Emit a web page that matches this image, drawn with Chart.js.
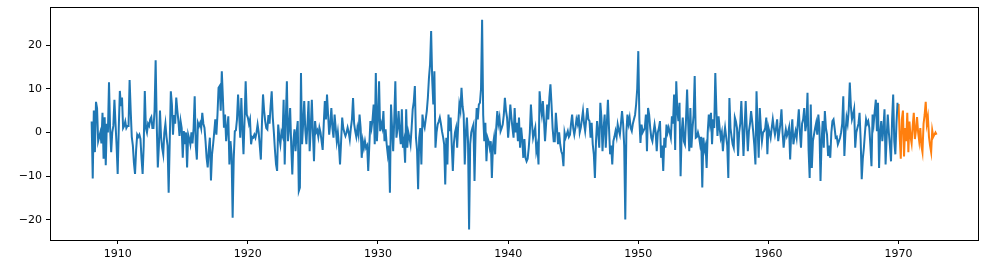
<!DOCTYPE html>
<html>
<head>
<meta charset="utf-8">
<script src="https://cdn.jsdelivr.net/npm/chart.js@4/dist/chart.umd.min.js"></script>
<style>
html,body{margin:0;padding:0;background:#fff;}
#wrap{width:988px;height:274px;position:relative;}
</style>
</head>
<body>
<div id="wrap"><canvas id="c"></canvas></div>
<script>
// Monthly series, training part starts Jan 1908, test part starts Jan 1970
const trainStartYear = 1908;
const testStartYear = 1970;
const trainValues = [
2.5,-10.5,5,-4.5,7,5.5,-2,-1,0,-2.5,4.5,-6,
3.5,-7.5,2,0,11.5,1,-4.5,0,1.5,7.5,2,-3,
-9.5,1,9.5,6,8,1,1.5,2.5,1,1.5,1.5,12,
5,-1,-3,-7,-9.5,-4,-0.5,-1,-0.5,-1.5,-6,-9.5,
-3,9.5,1,0,2,1.5,3,3.5,1,1,5,16.5,
2,-8,-3,5,-1,-3.5,-5,0,2,-1,-3,-13.8,
-2,9.4,6.4,-0.5,4,2,8,5,2.6,-0.8,2.6,1,
-5.8,0.3,-2.7,0,-8,-0.5,-1.5,-2.7,0,-2.5,1,8.3,
-3,-6.2,2.2,1.5,2.2,1,4.5,2,1.1,-2,-5.8,-8,
-4,-1.2,-11,-5,-2.7,0,3,-0.5,4,10.2,10.6,5,
14,8,1.1,4.1,-2,1,3.7,-7.3,-2,-5,-19.5,-6,
0.3,0.5,3,8.7,4,-1.2,7.9,1,-5,3,11.7,4.1,
3.4,2,3,-2.7,-1,-1.2,-0.5,-1.2,0,1.8,0,-3,
-6.2,2,8.7,5,2.6,1,0.7,4,2,6,9.4,3.4,
0,-4,-7.3,-8.8,1.8,-1,-2.7,0,-0.8,7.5,-7.3,3,
11.7,-2,1,5.6,-3,-9.6,-2,0.7,-4.3,0,2.6,-13.4,
-12.6,13.6,-2.7,2,7.2,0.5,-2.7,2,7.2,-4.3,1,7.5,
0,-6.6,2.6,0,0.5,-1,1.1,0,-2,-4,2,7.2,
3,8.7,4,-0.5,2,5.6,1,-1.2,4.1,1,-2,0,
-3,-7.3,-2,3.4,1,0,-0.8,0,1.1,0,-1.6,1,
3,7.9,2,0.3,-1,1,-0.5,4.1,1,-5.8,-2,-3.5,
-2,-3.5,-3,-8.8,-3,2.6,1,3,6.4,-2.7,13.6,-2,
3,11.7,0.3,2,1,4.9,-2,0.7,-2.7,-5,-3,-13.8,
6.4,1,-4.3,3,11.7,-1.2,1,4.9,0,-2.7,5.3,-3.5,
-2,-6.9,5.3,-3.5,0,-1.2,-2.7,1,5.3,7,10.6,-1.2,
-4,-13,-1.2,1,-7.3,4.1,2,1.1,3,4.9,8,12.5,
15.5,23.2,12,6.4,14,-3.5,0,1.8,2.5,3.4,2,0.3,
-1,-2.7,-11.9,-1.2,-7.3,4.1,0.3,3.4,-3,-8.8,-2.4,0,
1.1,-3.5,2,6.4,5,10.2,6,4.1,-7.3,0,3.4,-2,
-22.2,-2.7,0,1,1.8,-11.1,0,5.6,3,6.4,6.8,10,
25.8,4,-2,2.2,-6.6,-1.2,-2,-3.5,-2,-10.4,-3,-1.2,
-5,1,4.9,2,3.4,0.3,1,1.8,4,7.9,5,3.4,
-1.2,2,6.4,3.4,1,-1.2,5.6,0,2.2,-2,3.4,-3.5,
1.1,-1.6,-5.8,-1.5,-5.8,-6.6,-6,-3.5,0,6.4,2,-1.2,
0,1.1,-4.3,-3,-7.3,9.4,6,4.1,7.2,3,-2,2,
6.4,3,8,11,6.4,1,-2,-2,4.5,1,-2.7,0,
-2.7,-4.3,-5,-7.7,0,-1.2,-0.5,0.3,-1,-0.5,2,4.1,
1,-0.5,1,3,2,4.1,0,1.1,3,4.9,2,0.3,
3,5.6,3,2.6,-1.2,2.2,-2.7,-5,-10.4,-2,2.6,0,
-3.5,6.8,3.4,-4.3,1,4.1,-3.5,2,7.5,1,-5,-3,
-7.3,-2,-1,0.3,-1,1.8,0.5,-0.5,2,4.9,2,-3,
-19.9,0,4.1,2,3.4,1,0.3,2,3,4,6.4,10,
18.6,3,-2.4,1.8,0,0.5,1,4.1,-4.3,5.6,4.1,1,
-1.2,-2,0,1.8,0,-4.3,0,1,2.6,-5.8,-3,-8.8,
-1.2,-3.5,1.8,0,1.1,0,-1.2,3.7,2,8.7,-4,11.7,
5,2.6,6.8,-10,0,3.4,-2,-2.7,3,9.8,2,-4.3,
5.6,-3.5,1,4,12.9,-1.2,-1,0,-1,-2.7,-1,-12.6,
-1.2,-4,-3,-8.1,0,4.1,2,4.5,-2.7,3,1,13.6,
5,-0.8,3.7,1,-1.2,0,-4.3,-1,1.1,-1,-3,-10.4,
7.9,1,-1,-2.7,-3.5,3.4,2.5,1,-5.4,0,2,7.2,
1,-5.4,1,7.2,1,-4.3,0.3,2,4.9,2.6,0,-3,
-7.3,9.4,1,-5.8,5.6,1,-2,0,0.3,1,3.4,-5,
1.1,0,-1.2,1,3,1,-0.5,1,3,-2,0,2,
5.3,0,-3.5,-1,0.7,-0.8,0,1.1,-6.2,0,3,-2.7,
-1,0.3,-1.2,2,5.3,0,-3.5,2,3,5.6,0.3,2,
9.1,-4,-10.4,6.4,-8.1,-2,-0.5,1,2.2,-0.5,4.1,1,
-11.1,-2,2.6,-3.5,4.9,1,-0.5,-5.4,-3,-5.8,0,2.6,
3,1,-1.2,-1,-2.7,-2,-1.2,0,2,8.3,-5.4,0,
3.4,2,5,11.4,6,3,4,5.3,-3.5,0,1,2,
4.5,-1.6,-10.7,-6,-3.5,0,3,2,2.6,1,-3,-7.7,
4.1,2,4.9,7.5,0.3,6.8,-8.1,0,2.6,-2,1,5.3,
-7.3,-1,4.1,0,-3,-6.6,3,8.7,-2,-5,2,6.8
];
const testValues = [
6.5,-1,-6,3,5,-5.5,1,-2,4.5,-4.5,2.5,-1,
-2.5,1.5,4.5,-1.5,0.5,3.5,0,-2,1,-3,-4.5,2,
4,7,2,3.5,-1,-3,-4.5,0.5,-1,-0.5,0,-0.5
];
const xTickValues = [1910,1920,1930,1940,1950,1960,1970];
const yTickValues = [-20,-10,0,10,20];

const toPoints = (start, vals) => vals.map((v,i)=>({x:start + i/12, y:v}));

const framePlugin = {
  id:'frame',
  afterDraw(chart){
    const {ctx, chartArea:a} = chart;
    ctx.save();
    ctx.strokeStyle='#000';
    ctx.lineWidth=1;
    ctx.strokeRect(Math.round(a.left)+0.5, Math.round(a.top)+0.5, Math.round(a.right-a.left), Math.round(a.bottom-a.top));
    ctx.restore();
  }
};

new Chart(document.getElementById('c'), {
  type:'line',
  data:{
    datasets:[
      {data:toPoints(trainStartYear, trainValues), borderColor:'#1f77b4', borderWidth:2, pointRadius:0, fill:false, tension:0},
      {data:toPoints(testStartYear, testValues), borderColor:'#ff7f0e', borderWidth:2, pointRadius:0, fill:false, tension:0}
    ]
  },
  options:{
    responsive:true,
    maintainAspectRatio:false,
    devicePixelRatio:1,
    animation:false,
    parsing:false,
    normalized:true,
    layout:{padding:{top:7,right:10,left:0,bottom:0}},
    plugins:{legend:{display:false}, tooltip:{enabled:false}},
    scales:{
      x:{
        type:'linear', min:1904.8, max:1976.1,
        afterBuildTicks(s){ s.ticks = xTickValues.map(v=>({value:v})); },
        afterFit(s){ s.height = 34; s.paddingLeft = 0; s.paddingRight = 0; },
        grid:{display:true, drawOnChartArea:false, drawTicks:true, tickLength:4, color:'#000'},
        border:{display:true, color:'#000'},
        ticks:{color:'#000', font:{family:'DejaVu Sans', size:11}, padding:4, maxRotation:0, autoSkip:false, callback:v=>String(v)}
      },
      y:{
        type:'linear', min:-24.6, max:28.7,
        afterBuildTicks(s){ s.ticks = yTickValues.map(v=>({value:v})); },
        afterFit(s){ s.width = 50; s.paddingTop = 0; s.paddingBottom = 0; },
        grid:{display:true, drawOnChartArea:false, drawTicks:true, tickLength:4, color:'#000'},
        border:{display:true, color:'#000'},
        ticks:{color:'#000', font:{family:'DejaVu Sans', size:11}, padding:4, autoSkip:false, callback:v=>String(v).replace('-','\u2212')}
      }
    }
  },
  plugins:[framePlugin]
});
</script>
</body>
</html>
